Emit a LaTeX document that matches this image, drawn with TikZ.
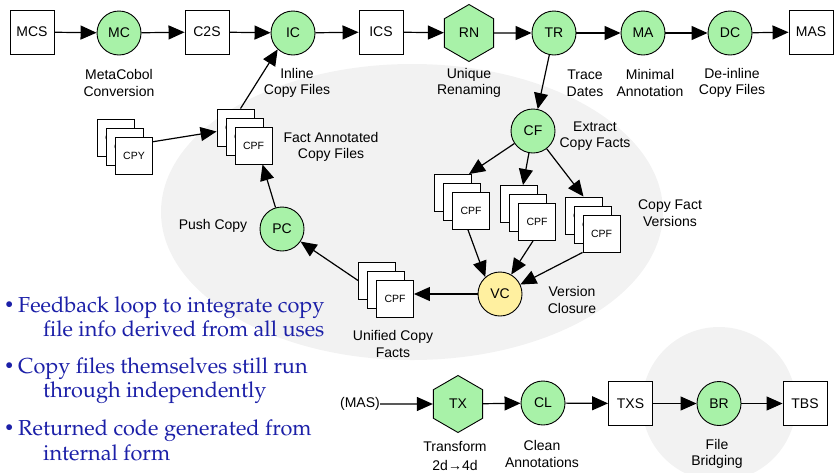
\documentclass[tikz,border=0pt]{standalone}
\usepackage[T1]{fontenc}
\usepackage{fontspec}
\setmainfont{Liberation Sans}
\usetikzlibrary{arrows.meta,shapes.geometric}

\definecolor{procgreen}{RGB}{168,242,168}
\definecolor{closeyellow}{RGB}{255,240,160}
\definecolor{halo}{RGB}{242,242,242}
\definecolor{notesblue}{RGB}{28,32,168}
\newcommand\palfont{\fontencoding{T1}\fontfamily{ppl}\selectfont}

\tikzset{
  sans/.style={font=\fontsize{14}{16.5}\selectfont},
  filebox/.style={sans, draw, fill=white, line width=0.9pt, minimum size=44pt, inner sep=0pt},
  proc/.style={sans, circle, draw, fill=procgreen, line width=0.9pt, minimum size=44pt, inner sep=0pt},
  hexproc/.style={sans, regular polygon, regular polygon sides=6, shape border rotate=90,
    draw, fill=procgreen, line width=0.9pt, minimum size=57pt, inner sep=0pt},
  card/.style={draw, fill=white, line width=0.9pt, minimum size=37pt, inner sep=0pt,
    font=\fontsize{10.5}{12}\selectfont},
  lbl/.style={sans, align=center, inner sep=0pt},
  note/.style={font=\palfont\fontsize{21.7}{24}\selectfont, text=notesblue, inner sep=0pt, anchor=base west},
  dot/.style={note, font=\palfont\fontsize{17}{17}\selectfont},
  link/.style={-{Triangle[length=16pt,width=14pt]}, line width=1.2pt},
}

\begin{document}
\begin{tikzpicture}[x=1pt,y=-1pt]
\useasboundingbox (0,0) rectangle (834,472);

% shaded regions behind the copy-fact loop and the bridging step
\fill[halo] (412,212) ellipse [x radius=251, y radius=148];
\fill[halo] (719,404) circle (77);

% main pipeline
\node[filebox] (MCS) at (32,32) {MCS};
\node[proc]    (MC)  at (119,33) {MC};
\node[filebox] (C2S) at (207,32) {C2S};
\node[proc]    (IC)  at (293,33) {IC};
\node[filebox] (ICS) at (381,32) {ICS};
\node[hexproc] (RN)  at (469,33) {RN};
\node[proc]    (TR)  at (554,33) {TR};
\node[proc]    (MA)  at (643,33) {MA};
\node[proc]    (DC)  at (730,33) {DC};
\node[filebox] (MAS) at (811,32) {MAS};

\node[lbl] (lMC) at (119,83) {MetaCobol\\Conversion};
\node[lbl] (lIC) at (297,83) {Inline\\Copy Files};
\node[lbl] (lRN) at (469,83) {Unique\\Renaming};
\node[lbl] (lTR) at (585,83) {Trace\\Dates};
\node[lbl] (lMA) at (650,83) {Minimal\\Annotation};
\node[lbl] (lDC) at (732,83) {De-inline\\Copy Files};

% copy-fact loop
\node[proc] (CF) at (533,131) {CF};
\node[proc, fill=closeyellow] (VC) at (500,294) {VC};
\node[proc] (PC) at (282,229) {PC};

% stacks of files: each entry is name / front card centre / card text
\foreach \n/\x/\y/\t in {CPY/134/156/CPY, FA/253.5/145.5/CPF, L/471/211/CPF,
                         M/537/222/CPF, R/601.5/233.5/CPF, U/395/298.5/CPF}{
  \foreach \k in {1,2,3}{
    \node[card] (\n-\k) at ({\x-27+9*\k},{\y-27+9*\k}) {\t};
  }
}

\node[lbl] (lCF) at (595,136) {Extract\\Copy Facts};
\node[lbl] (lVer) at (670,213) {Copy Fact\\Versions};
\node[lbl] (lFA) at (331,147) {Fact Annotated\\Copy Files};
\node[lbl] (lPC) at (213,226) {Push Copy};
\node[lbl] (lU) at (393,344) {Unified Copy\\Facts};
\node[lbl] (lVC) at (572,300) {Version\\Closure};

% back-end pipeline
\node[lbl]     (MAS2) at (360,404) {(MAS)};
\node[hexproc] (TX)  at (458,404) {TX};
\node[proc]    (CL)  at (543,403) {CL};
\node[filebox] (TXS) at (630.5,403.5) {TXS};
\node[proc]    (BR)  at (719,403.5) {BR};
\node[filebox] (TBS) at (805,403.5) {TBS};

\node[lbl] (lTX) at (455,456) {Transform\\[2pt]2d→4d};
\node[lbl] (lCL) at (542,454) {Clean\\Annotations};
\node[lbl] (lBR) at (717,454) {File\\Bridging};

% connectors
\draw[link] (MCS) -- (MC);
\draw[link] (MC) -- (C2S);
\draw[link] (C2S) -- (IC);
\draw[link] (IC) -- (ICS);
\draw[link] (ICS) -- (RN);
\draw[link] (RN) -- (TR);
\draw[link] (TR) -- (MA);
\draw[link] (MA) -- (DC);
\draw[link] (DC) -- (MAS);

\draw[link] (TR) -- (CF);
\draw[link] (CF) -- ([xshift=-3pt]L-1.north east);
\draw[link] (CF) -- ([xshift=4pt]M-1.north);
\draw[link] (CF) -- (R-1.north);
\draw[link] ([xshift=-3pt]L-3.south) -- (VC.131);
\draw[link] ([xshift=-4pt]M-3.south) -- (VC.60);
\draw[link] (R-3.south west) -- (VC.25);
\draw[link] (VC) -- (U-3.east |- VC);
\draw[link] (U-1.west) -- (PC);
\draw[link] (PC) -- ([xshift=9pt]FA-3.south);
\draw[link] (CPY-3.37) -- ([yshift=-4pt]FA-1.west);
\draw[link] ([xshift=5pt]FA-1.north) -- (IC.227);

\draw[link] (MAS2) -- (TX);
\draw[link] (TX) -- (CL);
\draw[link] (CL) -- (TXS);
\draw[link] (TXS) -- (BR);
\draw[link] (BR) -- (TBS);

% notes
\node[dot]  (b1)  at (4,310) {\textbullet};
\node[note] (n1a) at (18,312) {Feedback loop to integrate copy};
\node[note] (n1b) at (43,336) {file info derived from all uses};
\node[dot]  (b2)  at (4,371) {\textbullet};
\node[note] (n2a) at (18,373) {Copy files themselves still run};
\node[note] (n2b) at (43,397) {through independently};
\node[dot]  (b3)  at (4,433) {\textbullet};
\node[note] (n3a) at (18,435) {Returned code generated from};
\node[note] (n3b) at (43,460) {internal form};
\end{tikzpicture}
\end{document}
